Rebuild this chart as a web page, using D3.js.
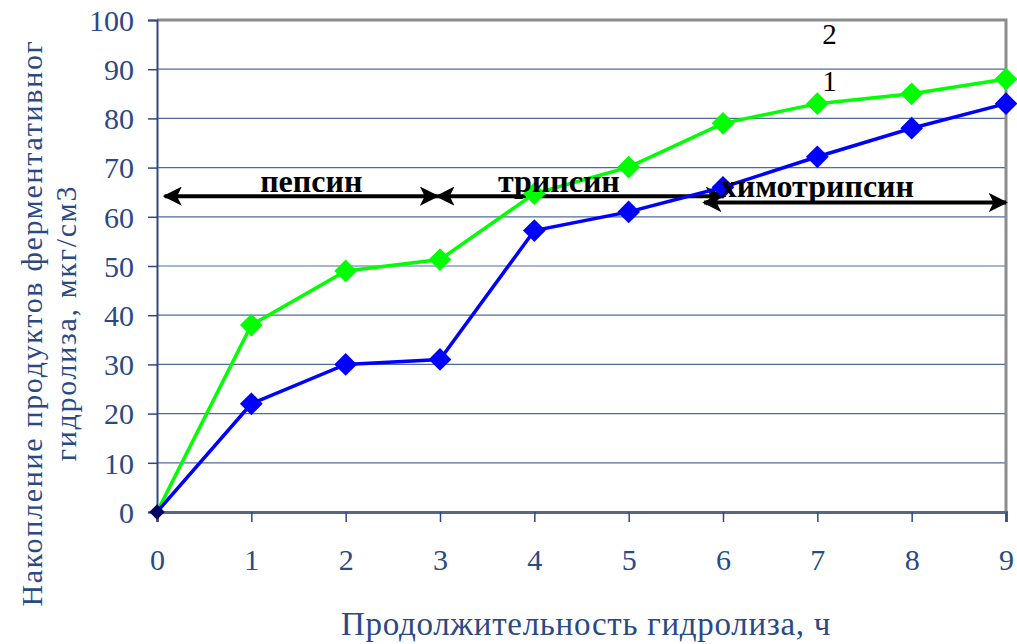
<!DOCTYPE html>
<html>
<head>
<meta charset="utf-8">
<script src="https://cdn.jsdelivr.net/npm/d3@7"></script>
<style>
  body { margin: 0; background: #fff; }
  svg { display: block; }
  text { font-family: 'Liberation Serif', 'Times New Roman', serif !important; }
</style>
</head>
<body>
<svg width="1017" height="644"></svg>
<script>
// hours of hydrolysis
var hours = [0, 1, 2, 3, 4, 5, 6, 7, 8, 9];
// series 1 (blue) and series 2 (green)
var series1 = [0, 22, 30, 31, 57.2, 61, 66, 72.2, 78, 83];
var series2 = [0, 38, 49, 51.3, 64.7, 70.1, 79, 83, 85, 88];
var yTicks = [0, 10, 20, 30, 40, 50, 60, 70, 80, 90, 100];
// enzyme ranges
var enzymes = ["пепсин", "трипсин", "химотрипсин"];
var enzymeFrom = [0.08, 2.97, 5.8];
var enzymeTo = [2.97, 6.0, 9.0];
var enzymeY = [64.2, 64.2, 62.9];
var enzymeLabelX = [1.635, 4.26, 7.0];

var svg = d3.select("svg"),
  margin = {top: 20, right: 11, bottom: 132, left: 157},
  width = 1017 - margin.left - margin.right,
  height = 644 - margin.top - margin.bottom;

var x = d3.scaleLinear().domain([0, 9]).range([0, width]),
  y = d3.scaleLinear().domain([0, 100]).range([height, 0]);

var axisColor = "#2a4a86";
var serif = "'Liberation Serif', serif";
var g = svg.append("g").attr("transform", "translate(" + margin.left + "," + margin.top + ")");

// gridlines
g.selectAll(".grid").data(yTicks.filter(function(d) { return d > 0 && d < 100; }))
  .enter().append("line")
  .attr("x1", 0).attr("x2", width)
  .attr("y1", function(d) { return y(d); }).attr("y2", function(d) { return y(d); })
  .attr("stroke", "#506aa0").attr("stroke-width", 1.2);

// top and right border
g.append("path")
  .attr("d", "M0," + y(100) + "H" + width + "V" + height)
  .attr("fill", "none").attr("stroke", "#8c8c8c").attr("stroke-width", 3);

// y axis
var yAxis = g.append("g")
  .call(d3.axisLeft(y).tickValues(yTicks).tickSize(9).tickPadding(14));
yAxis.attr("font-family", serif);
yAxis.select(".domain").attr("stroke", axisColor).attr("stroke-width", 2);
yAxis.selectAll(".tick line").attr("stroke", axisColor).attr("stroke-width", 1.5);
yAxis.selectAll("text").attr("fill", axisColor).style("font-size", "30px").attr("dy", "0.34em");

// x axis
var xAxis = g.append("g").attr("transform", "translate(0," + height + ")")
  .call(d3.axisBottom(x).tickValues(hours).tickSize(10).tickPadding(27));
xAxis.attr("font-family", serif);
xAxis.select(".domain").attr("stroke", "#5a6680").attr("stroke-width", 3);
xAxis.selectAll(".tick line").attr("stroke", axisColor).attr("stroke-width", 1.5);
xAxis.selectAll("text").attr("fill", axisColor).style("font-size", "30px");

// arrows
var defs = svg.append("defs");
defs.append("marker").attr("id", "ah").attr("viewBox", "0 0 10 10")
  .attr("refX", 9).attr("refY", 5).attr("markerWidth", 4.8).attr("markerHeight", 4.8)
  .attr("markerUnits", "strokeWidth").attr("orient", "auto-start-reverse")
  .append("path").attr("d", "M0,0 L10,5 L0,10 L2.5,5 Z").attr("fill", "#000");

g.selectAll(".enz").data(enzymes).enter().append("line")
  .attr("x1", function(d, i) { return x(enzymeFrom[i]); })
  .attr("x2", function(d, i) { return x(enzymeTo[i]); })
  .attr("y1", function(d, i) { return y(enzymeY[i]); })
  .attr("y2", function(d, i) { return y(enzymeY[i]); })
  .attr("stroke", "#000").attr("stroke-width", 4)
  .attr("marker-start", "url(#ah)").attr("marker-end", "url(#ah)");

// lines
var line = d3.line().x(function(d, i) { return x(hours[i]); }).y(function(d) { return y(d); });
var diamond = d3.symbol().type(d3.symbolDiamond2).size(330);

[[series2, "#00ff00"], [series1, "#0000ff"]].forEach(function(s) {
  g.append("path").datum(s[0]).attr("d", line)
    .attr("fill", "none").attr("stroke", s[1]).attr("stroke-width", 3.5);
  g.selectAll(null).data(s[0].slice(1)).enter().append("path")
    .attr("d", diamond)
    .attr("transform", function(d, i) { return "translate(" + x(hours[i + 1]) + "," + y(d) + ")"; })
    .attr("fill", s[1]);
});
// origin point
g.append("path").attr("d", d3.symbol().type(d3.symbolDiamond2).size(150))
  .attr("transform", "translate(" + x(0) + "," + y(0) + ")").attr("fill", "#000066");

// enzyme labels
g.selectAll(".enzl").data(enzymes).enter().append("text")
  .attr("x", function(d, i) { return x(enzymeLabelX[i]); })
  .attr("y", function(d, i) { return y(enzymeY[i]) - 4 - (i == 2 ? 2 : 0); })
  .attr("text-anchor", "middle").attr("font-weight", "bold").attr("font-family", serif)
  .style("font-size", "32px").attr("fill", "#000").text(function(d) { return d; });

// series numbers
g.append("text").attr("x", x(7.13)).attr("y", y(95.2)).attr("text-anchor", "middle")
  .attr("font-family", serif).style("font-size", "29px").text("2");
g.append("text").attr("x", x(7.13)).attr("y", y(85.6)).attr("text-anchor", "middle")
  .attr("font-family", serif).style("font-size", "29px").text("1");

// axis titles
svg.append("text").attr("x", 586).attr("y", 635).attr("text-anchor", "middle")
  .attr("font-family", serif).attr("fill", axisColor).style("font-size", "33px")
  .style("letter-spacing", "0.7px")
  .text("Продолжительность гидролиза, ч");

var yt = svg.append("text").attr("transform", "translate(42,323) rotate(-90)")
  .attr("text-anchor", "middle").attr("fill", axisColor).attr("font-family", serif)
  .style("font-size", "30px").style("letter-spacing", "1.7px");
yt.append("tspan").attr("x", 0).attr("y", 0).text("Накопление продуктов ферментативног");
yt.append("tspan").attr("x", 0).attr("y", 34).text("гидролиза, мкг/см3");
</script>
</body>
</html>
